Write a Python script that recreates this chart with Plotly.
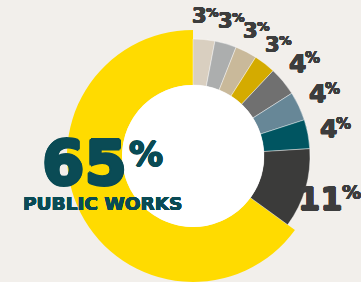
import math
import plotly.graph_objects as go

# ---- data (clockwise from 12 o'clock) ----
categories = ["Dept A", "Dept B", "Dept C", "Dept D", "Dept E",
              "Dept F", "Dept G", "Dept H", "Public Works"]
shares = [3, 3, 3, 3, 4, 4, 4, 11, 65]
headline_label = "PUBLIC WORKS"

# ---- style ----
colors = ["#D9CFC0", "#ACAEAE", "#C9B99A", "#D4AB00", "#707070",
          "#678797", "#005561", "#3B3B3A", "#FFDB00"]
label_sizes = [21, 21, 21, 21, 25, 25, 25, 32, 0]
BG = "#F2EFEB"
FONT = "DejaVu Sans"
W, H = 361, 282
CX, CY = 193, 126          # centre in px (from left, from bottom)
R_MAIN, R_OTHER, R_HOLE = 126, 117, 71
MAIN = len(shares) - 1
TRANSPARENT = "rgba(0,0,0,0)"


def dom(r):
    return dict(x=[(CX - r) / W, (CX + r) / W], y=[(CY - r) / H, (CY + r) / H])


def heavy(size, color, k=0.02):
    w = round(max(0.3, size * k), 2)
    d = round(w * 0.7, 2)
    sh = ", ".join(f"{dx}px {dy}px 0 {color}" for dx, dy in
                   [(w, 0), (-w, 0), (0, w), (0, -w), (d, d), (-d, -d), (d, -d), (-d, d)])
    return dict(family=FONT, size=size, color=color, weight=700, shadow=sh)


fig = go.Figure()
# big slice (larger radius)
fig.add_trace(go.Pie(
    labels=categories, values=shares, sort=False, direction="clockwise",
    rotation=0, hole=R_HOLE / R_MAIN, domain=dom(R_MAIN),
    marker=dict(colors=[colors[i] if i == MAIN else TRANSPARENT for i in range(len(shares))],
                line=dict(width=0)),
    textinfo="none", hoverinfo="skip", showlegend=False))
# remaining slices
fig.add_trace(go.Pie(
    labels=categories, values=shares, sort=False, direction="clockwise",
    rotation=0, hole=R_HOLE / R_OTHER, domain=dom(R_OTHER),
    marker=dict(colors=[TRANSPARENT if i == MAIN else colors[i] for i in range(len(shares))],
                line=dict(width=[0 if i == MAIN else 0.7 for i in range(len(shares))],
                          color="rgba(255,255,255,0.6)")),
    textinfo="none", hoverinfo="skip", showlegend=False))
# white centre
fig.add_trace(go.Pie(
    labels=["centre"], values=[1], domain=dom(R_HOLE), hole=0,
    marker=dict(colors=["#FFFFFF"], line=dict(width=0)),
    textinfo="none", hoverinfo="skip", showlegend=False))


def pct_label(xj, yj, value, size, color):
    """number right-aligned at junction (xj, yj px), small % to its upper right"""
    psize = 0.6 * size
    return [
        dict(x=xj / W, y=yj / H, xref="paper", yref="paper", showarrow=False,
             xanchor="right", yanchor="middle", text=str(value), borderpad=0,
             xshift=2, font=heavy(size, color)),
        dict(x=xj / W, y=(yj + 0.2 * size) / H, xref="paper", yref="paper",
             showarrow=False, xanchor="left", yanchor="middle", text="%", borderpad=0,
             xshift=-1, font=heavy(psize, color)),
    ]


annotations = []
total = sum(shares)
cum = 0
for i, v in enumerate(shares):
    start, end = cum, cum + v
    cum = end
    if i == MAIN:
        continue
    theta = math.radians((start + end) / 2 / total * 360.0)  # clockwise from top
    r = 112 + 1.35 * label_sizes[i]
    annotations += pct_label(CX + r * math.sin(theta), CY + r * math.cos(theta),
                             v, label_sizes[i], "#3D3D3D")

# headline
annotations.append(dict(
    x=128 / W, y=(H - 162.5) / H, xref="paper", yref="paper", showarrow=False,
    xanchor="right", yanchor="middle", text=f"{shares[MAIN]}", borderpad=0,
    font=heavy(61, "#0A4B55", 0.025)))
annotations.append(dict(
    x=128 / W, y=(H - 153.5) / H, xref="paper", yref="paper", showarrow=False,
    xanchor="left", yanchor="middle", text="%", borderpad=0,
    font=heavy(34, "#0A4B55")))
annotations.append(dict(
    x=102 / W, y=(H - 203.5) / H, xref="paper", yref="paper", showarrow=False,
    xanchor="center", yanchor="middle", text=headline_label,
    font=heavy(18.5, "#0A4B55", 0.016)))

fig.update_layout(
    width=W, height=H, margin=dict(l=0, r=0, t=0, b=0),
    paper_bgcolor=BG, plot_bgcolor=BG, annotations=annotations)

fig.write_html(
    "out.html", config={"displayModeBar": False},
    post_script="document.body.style.margin='0';document.body.style.overflow='hidden';")
